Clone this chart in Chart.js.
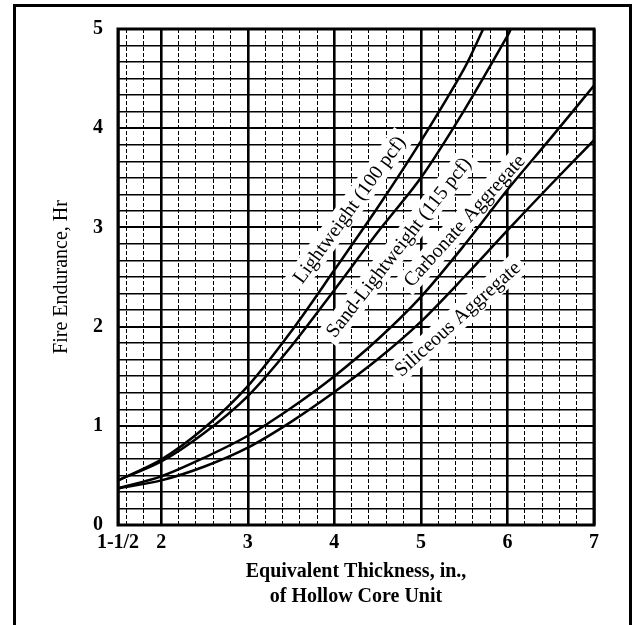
<!DOCTYPE html>
<html>
<head>
<meta charset="utf-8">
<script src="https://cdn.jsdelivr.net/npm/chart.js@4.4.0/dist/chart.umd.min.js"></script>
<style>
  html, body { margin: 0; padding: 0; background: #fff; }
  #wrap { width: 635px; height: 625px; position: relative; }
</style>
</head>
<body>
<div id="wrap"><canvas id="chart"></canvas></div>
<script>
// Curvas (espesor equivalente, pulg. -> horas)
const lightweightX = [1.5, 2, 2.5, 3, 3.5, 4, 4.5, 5, 5.5, 5.72];
const lightweightY = [0.45, 0.66, 0.98, 1.40, 1.95, 2.57, 3.20, 3.87, 4.60, 5.0];

const sandLightX = [1.5, 2, 2.5, 3, 3.5, 4, 4.5, 5, 5.5, 6, 6.04];
const sandLightY = [0.45, 0.64, 0.93, 1.30, 1.80, 2.37, 2.95, 3.50, 4.18, 4.93, 5.0];

const carbonateX = [1.5, 2, 2.5, 3, 3.5, 4, 4.5, 5, 5.5, 6, 6.5, 7];
const carbonateY = [0.37, 0.49, 0.68, 0.90, 1.18, 1.50, 1.87, 2.30, 2.82, 3.38, 3.90, 4.43];

const siliceousX = [1.5, 2, 2.5, 3, 3.5, 4, 4.5, 5, 5.5, 6, 6.5, 7];
const siliceousY = [0.37, 0.45, 0.59, 0.78, 1.04, 1.34, 1.67, 2.05, 2.50, 2.97, 3.43, 3.88];

// Etiquetas de ejes
const xTickValues = [1.5, 2, 3, 4, 5, 6, 7];
const xTickLabels = ['1-1/2', '2', '3', '4', '5', '6', '7'];
const yTickValues = [0, 1, 2, 3, 4, 5];
const yTickLabels = ['0', '1', '2', '3', '4', '5'];

// Textos sobre las curvas (posicion en unidades de datos)
const curveLabels = [
  { text: 'Lightweight (100 pcf)', x: 4.17, y: 3.18, angle: 54 },
  { text: 'Sand-Lightweight (115 pcf)', x: 4.74, y: 2.80, angle: 52 },
  { text: 'Carbonate Aggregate', x: 5.50, y: 3.07, angle: 48 },
  { text: 'Siliceous Aggregate', x: 5.42, y: 2.08, angle: 42 }
];

const serif = '"Liberation Serif", "Times New Roman", serif';

function toPoints(xs, ys) {
  return xs.map((x, i) => ({ x, y: ys[i] }));
}

function curve(xs, ys) {
  return {
    data: toPoints(xs, ys),
    borderColor: '#000',
    borderWidth: 2.5,
    pointRadius: 0,
    fill: false,
    tension: 0.3
  };
}

const isMajorX = v => Number.isInteger(v) || v === 1.5;
const isMajorY = v => Math.abs(v - Math.round(v)) < 1e-6;

// Marco, fondo de etiquetas y textos
const decor = {
  id: 'decor',
  beforeDatasetsDraw(chart) {
    const { ctx, scales: { x, y } } = chart;
    ctx.save();
    ctx.font = '20px ' + serif;
    curveLabels.forEach(l => {
      const px = x.getPixelForValue(l.x);
      const py = y.getPixelForValue(l.y);
      ctx.save();
      ctx.translate(px, py);
      ctx.rotate(-l.angle * Math.PI / 180);
      const w = ctx.measureText(l.text).width;
      ctx.fillStyle = '#fff';
      ctx.fillRect(-w / 2 - 5, -12, w + 10, 24);
      ctx.fillStyle = '#000';
      ctx.textAlign = 'center';
      ctx.textBaseline = 'middle';
      ctx.fillText(l.text, 0, 1);
      ctx.restore();
    });
    ctx.restore();
  },
  afterDraw(chart) {
    const { ctx, chartArea: a } = chart;
    ctx.save();
    ctx.strokeStyle = '#000';
    ctx.lineWidth = 3;
    ctx.strokeRect(a.left, a.top, a.right - a.left, a.bottom - a.top);
    ctx.strokeRect(14.5, 5.5, 616, 700);
    ctx.restore();
  }
};

new Chart(document.getElementById('chart'), {
  type: 'line',
  data: {
    datasets: [
      curve(lightweightX, lightweightY),
      curve(sandLightX, sandLightY),
      curve(carbonateX, carbonateY),
      curve(siliceousX, siliceousY)
    ]
  },
  options: {
    responsive: true,
    maintainAspectRatio: false,
    animation: false,
    layout: { padding: { top: 29, right: 41, left: 0, bottom: 0 } },
    plugins: { legend: { display: false }, tooltip: { enabled: false } },
    scales: {
      x: {
        type: 'linear',
        min: 1.5,
        max: 7,
        afterBuildTicks: scale => {
          const vals = [1.5];
          for (let v = 1.6; v <= 7.0001; v += 0.2) vals.push(Math.round(v * 10) / 10);
          scale.ticks = vals.map(v => ({ value: v }));
        },
        afterFit: scale => { scale.height = 100; },
        ticks: {
          autoSkip: false,
          maxRotation: 0,
          padding: 6,
          color: '#000',
          font: { family: serif, size: 20, weight: 'bold' },
          callback: value => {
            const i = xTickValues.indexOf(value);
            return i >= 0 ? xTickLabels[i] : '';
          }
        },
        grid: {
          drawTicks: false,
          color: '#000',
          lineWidth: c => isMajorX(c.tick.value) ? 2.6 : 1
        },
        border: {
          display: false,
          dash: c => (c.tick && !isMajorX(c.tick.value)) ? [4, 2] : []
        },
        title: {
          display: true,
          text: ['Equivalent Thickness, in.,', 'of Hollow Core Unit'],
          color: '#000',
          font: { family: serif, size: 20, weight: 'bold', lineHeight: 1.25 },
          padding: { top: 0, bottom: 16 }
        }
      },
      y: {
        type: 'linear',
        min: 0,
        max: 5,
        afterBuildTicks: scale => {
          const vals = [];
          for (let i = 0; i <= 30; i++) vals.push(i / 6);
          scale.ticks = vals.map(v => ({ value: v }));
        },
        afterFit: scale => { scale.width = 118; },
        ticks: {
          autoSkip: false,
          padding: 15,
          color: '#000',
          font: { family: serif, size: 20, weight: 'bold' },
          callback: value => {
            if (!isMajorY(value)) return '';
            const i = yTickValues.indexOf(Math.round(value));
            return i >= 0 ? yTickLabels[i] : '';
          }
        },
        grid: {
          drawTicks: false,
          color: '#000',
          lineWidth: c => isMajorY(c.tick.value) ? 2 : 1.5
        },
        border: { display: false },
        title: {
          display: true,
          text: 'Fire Endurance, Hr',
          color: '#000',
          font: { family: serif, size: 20 },
          padding: { top: 50, bottom: 0 }
        }
      }
    }
  },
  plugins: [decor]
});
</script>
</body>
</html>
